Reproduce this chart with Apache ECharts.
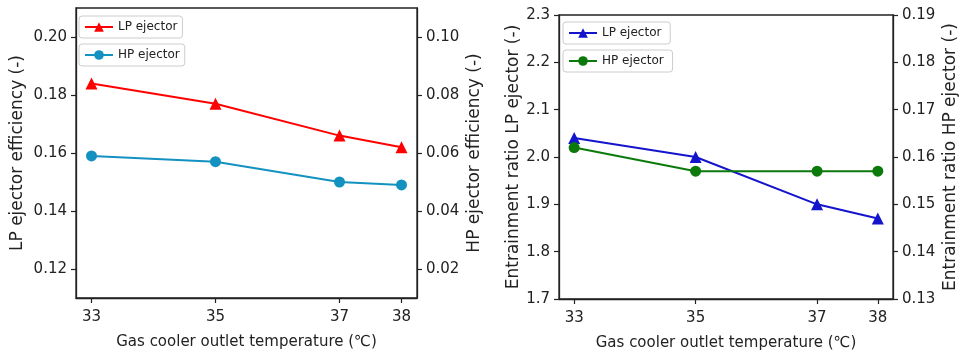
<!DOCTYPE html>
<html>
<head>
<meta charset="utf-8">
<script src="https://cdn.jsdelivr.net/npm/echarts@6/dist/echarts.min.js"></script>
<style>html,body{margin:0;padding:0;background:#fff}#c{width:960px;height:361px}</style>
</head>
<body>
<div id="c"></div>
<script>
// Data
const temps = [33, 35, 37, 38];
const xTicks = [33, 35, 37, 38];
const lpEfficiency = [0.184, 0.177, 0.166, 0.162];
const hpEfficiency = [0.059, 0.057, 0.050, 0.049];
const lpEntrainment = [2.04, 2.00, 1.90, 1.87];
const hpEntrainment = [0.162, 0.157, 0.157, 0.157];
const lpEffTicks = [0.12, 0.14, 0.16, 0.18, 0.20];
const hpEffTicks = [0.02, 0.04, 0.06, 0.08, 0.10];
const lpEntTicks = [1.7, 1.8, 1.9, 2.0, 2.1, 2.2, 2.3];
const hpEntTicks = [0.13, 0.14, 0.15, 0.16, 0.17, 0.18, 0.19];

const FONT = 'DejaVu Sans';
const TXT = '#222';
const AX = '#222';

function pairs(xs, ys) { return xs.map((x, i) => [x, ys[i]]); }

function xAxisCfg(gi) {
  return {
    type: 'value', gridIndex: gi, min: 32.75, max: 38.25,
    name: 'Gas cooler outlet temperature (℃)', nameLocation: 'middle', nameGap: 37,
    nameTextStyle: { fontFamily: FONT, fontSize: 15, color: TXT },
    axisLine: { show: true, onZero: false, lineStyle: { color: AX, width: 1.3 } },
    axisTick: { show: true, length: 5, customValues: xTicks, lineStyle: { color: AX, width: 1.2 } },
    axisLabel: { customValues: xTicks, margin: 12, fontFamily: FONT, fontSize: 15, color: TXT, formatter: v => String(v) },
    splitLine: { show: false }
  };
}

function yAxisCfg(gi, pos, min, max, ticks, name, gap, dec) {
  return {
    type: 'value', gridIndex: gi, position: pos, min: min, max: max,
    name: name, nameLocation: 'middle', nameGap: gap, nameRotate: 90,
    nameTextStyle: { fontFamily: FONT, fontSize: 17, color: TXT },
    axisLine: { show: true, onZero: false, lineStyle: { color: AX, width: 1.3 } },
    axisTick: { show: true, length: 5, customValues: ticks, lineStyle: { color: AX, width: 1.2 } },
    axisLabel: { customValues: ticks, margin: 9, fontFamily: FONT, fontSize: 15, color: TXT, formatter: v => v.toFixed(dec) },
    splitLine: { show: false }
  };
}

function legendCfg(name, left, top) {
  return {
    data: [name], left: left, top: top, orient: 'vertical',
    itemWidth: 28, itemHeight: 12, itemGap: 5,
    padding: [4, 5, 4, 5],
    borderColor: '#cccccc', borderWidth: 1, borderRadius: 3,
    backgroundColor: 'rgba(255,255,255,0.85)',
    textStyle: { fontFamily: FONT, fontSize: 12, color: TXT, lineHeight: 14 }
  };
}

const RED = '#ff0000', TEAL = '#1391c0', BLUE = '#1414cc', GREEN = '#0b7a0b';

const option = {
  animation: false,
  backgroundColor: '#fff',
  grid: [
    { left: 76, right: 543, top: 8, bottom: 63, show: true, borderColor: AX, borderWidth: 1.3, backgroundColor: 'transparent' },
    { left: 559, right: 65, top: 15, bottom: 62, show: true, borderColor: AX, borderWidth: 1.3, backgroundColor: 'transparent' }
  ],
  legend: [
    legendCfg('LP ejector', 79, 16),
    legendCfg('HP ejector', 79, 44),
    legendCfg('LP ejector ', 563, 22),
    legendCfg('HP ejector ', 563, 50)
  ],
  xAxis: [xAxisCfg(0), xAxisCfg(1)],
  yAxis: [
    yAxisCfg(0, 'left', 0.11, 0.21, lpEffTicks, 'LP ejector efficiency (-)', 50, 2),
    yAxisCfg(0, 'right', 0.01, 0.11, hpEffTicks, 'HP ejector efficiency (-)', 49, 2),
    yAxisCfg(1, 'left', 1.7, 2.3, lpEntTicks, 'Entrainment ratio LP ejector (-)', 37, 1),
    yAxisCfg(1, 'right', 0.13, 0.19, hpEntTicks, 'Entrainment ratio HP ejector (-)', 49, 2)
  ],
  series: [
    { name: 'LP ejector', type: 'line', xAxisIndex: 0, yAxisIndex: 0, data: pairs(temps, lpEfficiency),
      symbol: 'triangle', symbolSize: 12, color: RED, lineStyle: { width: 2, color: RED }, itemStyle: { color: RED } },
    { name: 'HP ejector', type: 'line', xAxisIndex: 0, yAxisIndex: 1, data: pairs(temps, hpEfficiency),
      symbol: 'circle', symbolSize: 11, color: TEAL, lineStyle: { width: 2, color: TEAL }, itemStyle: { color: TEAL } },
    { name: 'LP ejector ', type: 'line', xAxisIndex: 1, yAxisIndex: 2, data: pairs(temps, lpEntrainment),
      symbol: 'triangle', symbolSize: 12, color: BLUE, lineStyle: { width: 2, color: BLUE }, itemStyle: { color: BLUE } },
    { name: 'HP ejector ', type: 'line', xAxisIndex: 1, yAxisIndex: 3, data: pairs(temps, hpEntrainment),
      symbol: 'circle', symbolSize: 11, color: GREEN, lineStyle: { width: 2, color: GREEN }, itemStyle: { color: GREEN } }
  ]
};

const chart = echarts.init(document.getElementById('c'), null, { renderer: 'canvas' });
chart.setOption(option);
</script>
</body>
</html>
